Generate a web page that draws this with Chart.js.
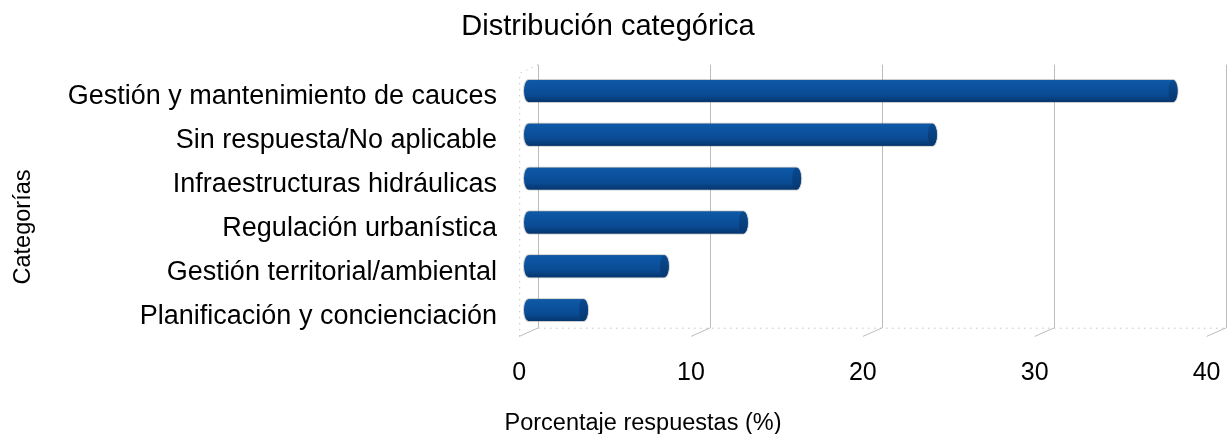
<!DOCTYPE html>
<html lang="es">
<head>
<meta charset="utf-8">
<title>Distribución categórica</title>
<script src="https://cdn.jsdelivr.net/npm/chart.js@4.4.0/dist/chart.umd.min.js"></script>
<style>
    html, body { margin: 0; padding: 0; background: #ffffff; }
    #wrap { width: 1228px; height: 434px; }
</style>
</head>
<body>
<div id="wrap"><canvas id="chart" width="1228" height="434"></canvas></div>
<script>
const categories = [
    'Gestión y mantenimiento de cauces',
    'Sin respuesta/No aplicable',
    'Infraestructuras hidráulicas',
    'Regulación urbanística',
    'Gestión territorial/ambiental',
    'Planificación y concienciación'
];
const values = [37.5, 23.5, 15.6, 12.5, 7.9, 3.2];
const xTicks = [0, 10, 20, 30, 40];

const chartTitle = 'Distribución categórica';
const xTitle = 'Porcentaje respuestas (%)';
const yTitle = 'Categorías';

const FONT = '"Liberation Sans", Arial, Helvetica, sans-serif';

// depth of the fake 3d box, relative to the plane the bars sit in
const BACK = { dx: 9.5, dy: -4.3 };
const FRONT = { dx: -9.3, dy: 4.4 };

const wallPlugin = {
    id: 'wall',
    beforeDatasetsDraw(chart) {
        const ctx = chart.ctx;
        const area = chart.chartArea;
        const xs = chart.scales.x;
        const backTop = area.top + BACK.dy;
        const backBottom = area.bottom + BACK.dy;
        const frontTop = area.top + FRONT.dy;
        const frontBottom = area.bottom + FRONT.dy;
        const x0 = xs.getPixelForValue(xTicks[0]);
        const xN = xs.getPixelForValue(xTicks[xTicks.length - 1]);

        ctx.save();
        ctx.lineWidth = 1;

        // dotted floor edge and left wall
        ctx.strokeStyle = '#c4c4c4';
        ctx.setLineDash([1.5, 4.5]);
        ctx.beginPath();
        ctx.moveTo(x0 + BACK.dx, backBottom + 0.5);
        ctx.lineTo(xN + BACK.dx, backBottom + 0.5);
        ctx.moveTo(x0 + FRONT.dx + 0.5, frontBottom);
        ctx.lineTo(x0 + FRONT.dx + 0.5, frontTop);
        ctx.lineTo(x0 + BACK.dx, backTop);
        ctx.stroke();
        ctx.setLineDash([]);

        // back wall gridlines with their floor diagonals
        ctx.strokeStyle = '#bcbcbc';
        xTicks.forEach(v => {
            const px = Math.round(xs.getPixelForValue(v) + BACK.dx) + 0.5;
            const fx = xs.getPixelForValue(v) + FRONT.dx;
            ctx.beginPath();
            ctx.moveTo(px, backTop);
            ctx.lineTo(px, backBottom);
            ctx.lineTo(fx, frontBottom);
            ctx.stroke();
        });
        ctx.restore();
    }
};

const cylinderPlugin = {
    id: 'cylinders',
    afterDatasetsDraw(chart) {
        const ctx = chart.ctx;
        const bars = chart.getDatasetMeta(0).data;
        const rx = 4.5;

        bars.forEach(bar => {
            const x0 = bar.base;
            const x1 = bar.x;
            const ry = bar.height / 2;
            const top = bar.y - ry;
            const bottom = bar.y + ry;

            const body = new Path2D();
            body.moveTo(x0, top);
            body.lineTo(x1, top);
            body.ellipse(x1, bar.y, rx, ry, 0, -Math.PI / 2, Math.PI / 2, false);
            body.lineTo(x0, bottom);
            body.ellipse(x0, bar.y, rx, ry, 0, Math.PI / 2, Math.PI * 1.5, false);
            body.closePath();

            ctx.save();
            ctx.strokeStyle = 'rgba(110, 110, 110, 0.35)';
            ctx.lineWidth = 2;
            ctx.stroke(body);

            const grad = ctx.createLinearGradient(0, top, 0, bottom);
            grad.addColorStop(0, '#0e59a6');
            grad.addColorStop(0.35, '#0c529e');
            grad.addColorStop(0.7, '#0a4a92');
            grad.addColorStop(1, '#05366e');
            ctx.fillStyle = grad;
            ctx.fill(body);

            const capGrad = ctx.createLinearGradient(0, top, 0, bottom);
            capGrad.addColorStop(0, '#0a4a90');
            capGrad.addColorStop(1, '#053870');
            ctx.fillStyle = capGrad;
            ctx.beginPath();
            ctx.ellipse(x1, bar.y, rx, ry, 0, 0, Math.PI * 2);
            ctx.fill();
            ctx.restore();
        });
    }
};

const axisTitlePlugin = {
    id: 'axisTitles',
    afterDraw(chart) {
        const ctx = chart.ctx;
        ctx.save();
        ctx.fillStyle = '#000000';
        ctx.font = '23.5px ' + FONT;

        ctx.textAlign = 'center';
        ctx.textBaseline = 'middle';
        ctx.fillText(xTitle, 643, 424);

        ctx.translate(30, 227);
        ctx.rotate(-Math.PI / 2);
        ctx.textBaseline = 'alphabetic';
        ctx.fillText(yTitle, 0, 0);
        ctx.restore();
    }
};

Chart.defaults.font.family = FONT;
Chart.defaults.color = '#000000';

new Chart(document.getElementById('chart'), {
    type: 'bar',
    data: {
        labels: categories,
        datasets: [{
            data: values,
            backgroundColor: '#0b4d97',
            borderWidth: 0,
            barPercentage: 0.5,
            categoryPercentage: 1
        }]
    },
    options: {
        indexAxis: 'y',
        responsive: false,
        animation: false,
        layout: { padding: { left: 0, right: 12, top: 0, bottom: 0 } },
        plugins: {
            legend: { display: false },
            tooltip: { enabled: false },
            title: {
                display: true,
                text: chartTitle,
                color: '#000000',
                font: { size: 29, weight: 'normal', family: FONT },
                padding: { top: 10, bottom: 24.2 }
            }
        },
        scales: {
            x: {
                min: 0,
                max: 40,
                afterBuildTicks: s => { s.ticks = xTicks.map(v => ({ value: v })); },
                afterFit: s => {
                    s.height = 102;
                    s.paddingLeft = 0;
                    s.paddingRight = 0;
                },
                grid: { display: false, drawTicks: false },
                border: { display: false },
                ticks: {
                    font: { size: 25 },
                    padding: 26.5,
                    labelOffset: -9.4,
                    maxRotation: 0
                }
            },
            y: {
                afterFit: s => {
                    s.width = 528.5;
                    s.paddingTop = 0;
                    s.paddingBottom = 0;
                },
                grid: { display: false, drawTicks: false },
                border: { display: false },
                ticks: {
                    font: { size: 27 },
                    padding: 31.5,
                    labelOffset: 6
                }
            }
        }
    },
    plugins: [wallPlugin, cylinderPlugin, axisTitlePlugin]
});
</script>
</body>
</html>
